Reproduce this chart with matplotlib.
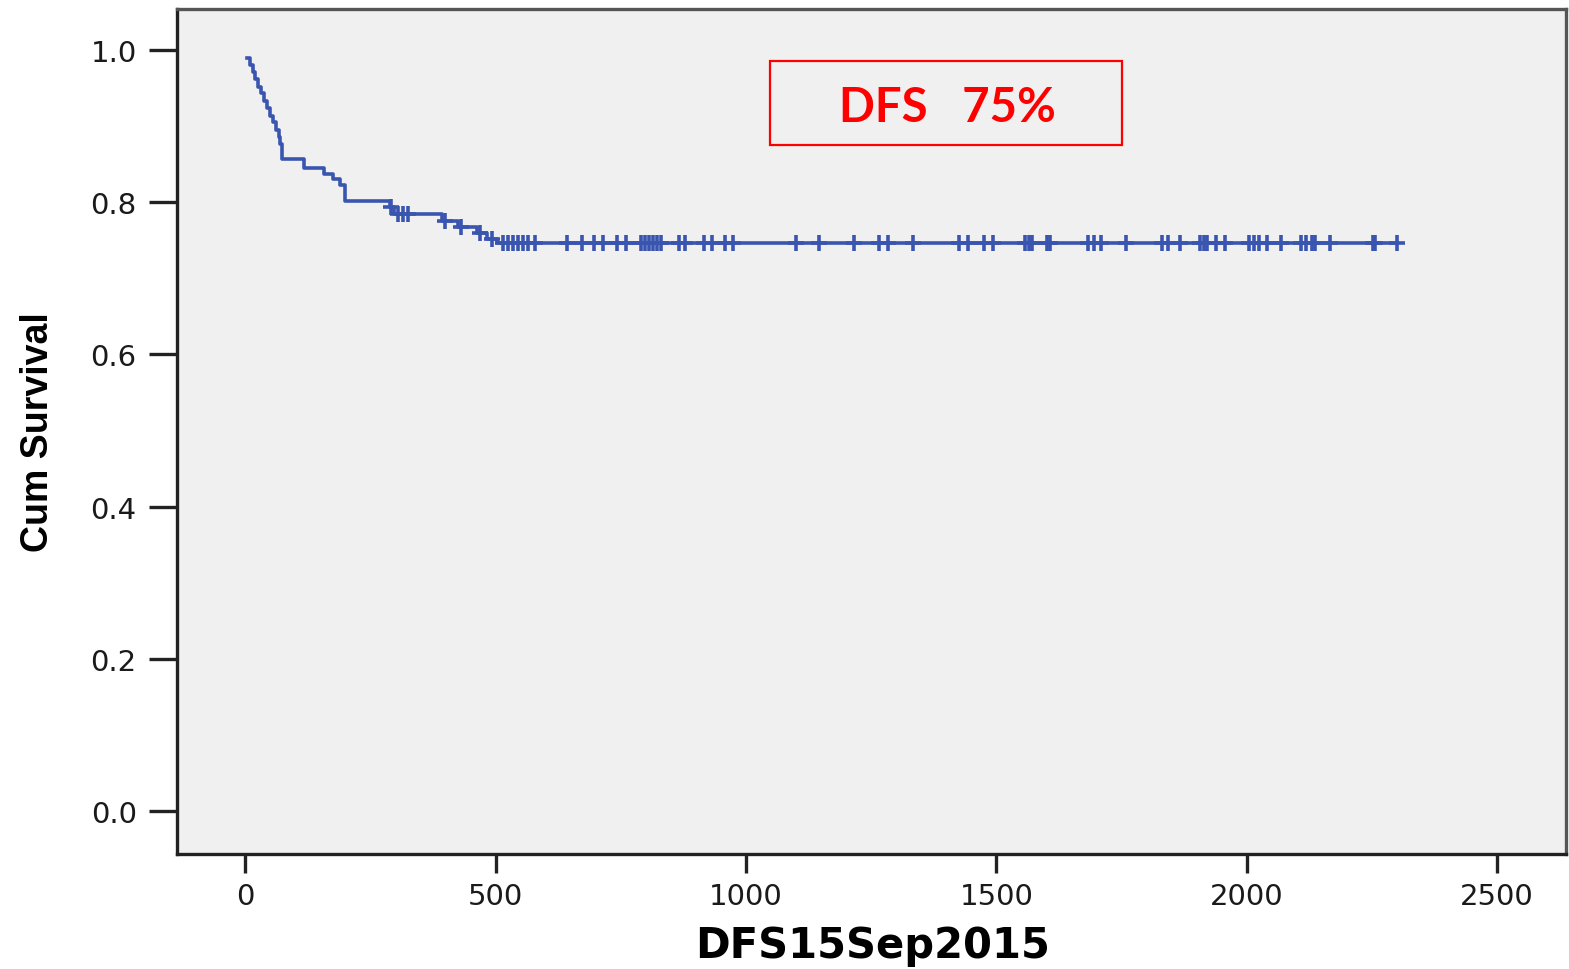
import matplotlib.pyplot as plt
from matplotlib.patches import Rectangle
import numpy as np

# Kaplan-Meier steps: day of each drop and the survival level after it
event_days = [3, 10, 16, 20, 26, 32, 38, 44, 50, 56, 62, 68, 70, 74,
              118, 157, 175, 190, 200, 290, 297, 393, 425, 463, 483, 503]
cum_surv = [0.990, 0.981, 0.971, 0.962, 0.952, 0.943, 0.933, 0.924, 0.914,
            0.905, 0.895, 0.886, 0.876, 0.857, 0.845, 0.837, 0.830, 0.823,
            0.802, 0.794, 0.784, 0.776, 0.768, 0.760, 0.752, 0.746]
last_day = 2300

# censored patients (days)
censor_days = [292, 305, 315, 325, 400, 431, 469, 493, 515, 525, 535, 545,
               555, 565, 578, 643, 673, 696, 715, 742, 760, 790, 798, 806,
               814, 822, 830, 867, 878, 917, 932, 959, 974, 1100, 1146, 1215,
               1265, 1283, 1333, 1425, 1444, 1475, 1494, 1557, 1565, 1571,
               1601, 1608, 1683, 1695, 1709, 1758, 1830, 1842, 1866, 1906,
               1914, 1920, 1938, 1956, 2004, 2014, 2024, 2040, 2068, 2108,
               2118, 2130, 2136, 2166, 2251, 2255, 2300]

x_ticks = [0, 500, 1000, 1500, 2000, 2500]
y_ticks = [0.0, 0.2, 0.4, 0.6, 0.8, 1.0]
dfs_label = "DFS   75%"

line_color = "#3a55b0"

fig = plt.figure(figsize=(15.69, 9.70), dpi=100)
ax = fig.add_axes([0.1128, 0.1186, 0.8852, 0.8711])
ax.set_facecolor("#f0f0f0")

# survival curve
xs = event_days + [last_day]
ys = cum_surv + [cum_surv[-1]]
ax.plot(xs, ys, drawstyle="steps-post", color=line_color, lw=2.6, zorder=3)

# censor marks sit on the curve level at that day
idx = np.searchsorted(event_days, censor_days, side="right") - 1
censor_levels = [cum_surv[i] for i in idx]
ax.plot(censor_days, censor_levels, linestyle="none", marker="+",
        ms=11, mew=2.6, color=line_color, zorder=4)

ax.set_xlim(-136, 2637)
ax.set_ylim(-0.0565, 1.054)
ax.set_xticks(x_ticks)
ax.set_yticks(y_ticks)
ax.set_yticklabels([f"{v:.1f}" for v in y_ticks])

for lab in ax.get_xticklabels() + ax.get_yticklabels():
    lab.set_fontfamily("DejaVu Sans")
    lab.set_fontsize(21)
    lab.set_color("#1a1a1a")

ax.tick_params(axis="x", length=14, width=2.4, pad=6, color="#222222")
ax.tick_params(axis="y", length=20, width=2.4, pad=9, color="#222222")

for side in ["left", "bottom"]:
    ax.spines[side].set_linewidth(2.4)
    ax.spines[side].set_color("#222222")
for side in ["top", "right"]:
    ax.spines[side].set_linewidth(2.4)
    ax.spines[side].set_color("#555555")

ax.set_xlabel("DFS15Sep2015", fontsize=30, fontweight="bold",
              family="DejaVu Sans", va="center")
ax.xaxis.set_label_coords(0.501, -0.1077)
ax.set_ylabel("Cum Survival", fontsize=27, fontweight="bold",
              family="Liberation Sans", va="center", ha="center")
ax.yaxis.set_label_coords(-0.1004, 0.5)

# red DFS annotation box
ax.add_patch(Rectangle((0.427, 0.839), 0.2534, 0.0994, transform=ax.transAxes,
                       fill=False, edgecolor="#ff0000", lw=1.6, zorder=5))
ax.text(0.5547, 0.8675, dfs_label, transform=ax.transAxes, ha="center",
        va="baseline", fontsize=34, fontweight="bold", family="Lato",
        color="#ff0000", zorder=6)

fig.savefig("out.png", dpi=100)
